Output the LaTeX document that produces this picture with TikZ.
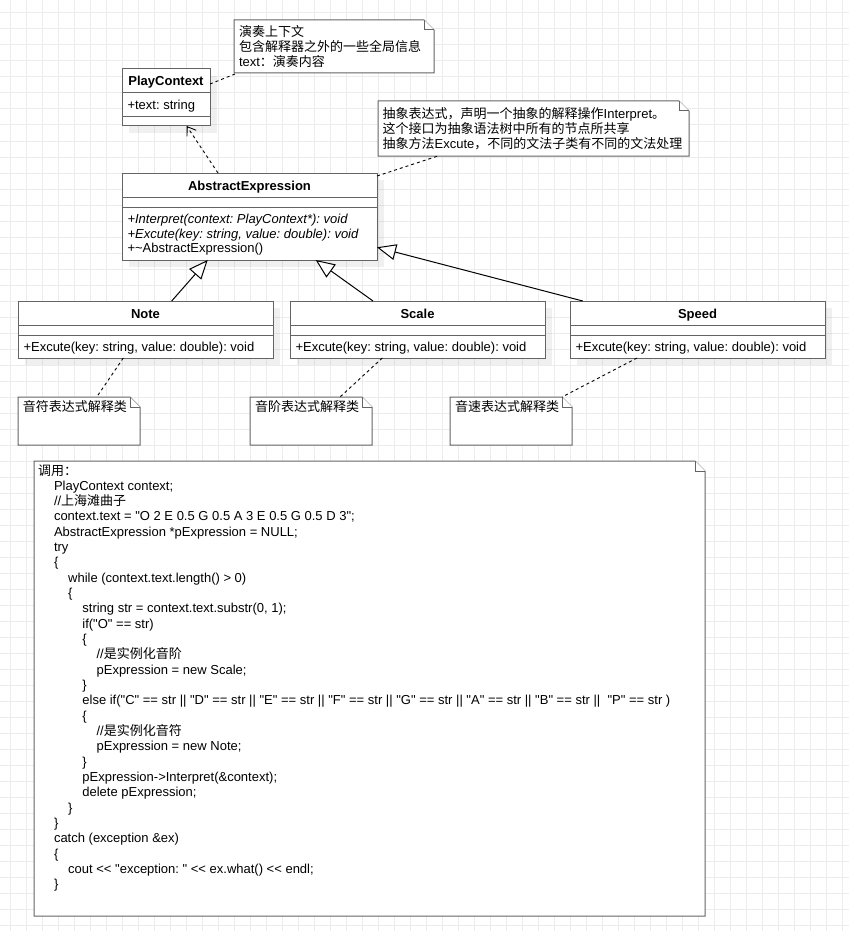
\documentclass[tikz,border=0pt]{standalone}
\usepackage{fontspec}
\newfontfamily\arialf{Liberation Sans}
\newfontfamily\cjk{Noto Sans CJK SC}
\usetikzlibrary{arrows.meta,calc,shadows}
\definecolor{gridc}{RGB}{236,236,236}
\definecolor{boxc}{RGB}{100,100,100}
\newcount\clnum
\newcommand\codeln[2]{%
  \global\advance\clnum by 1\relax
  \pgfmathsetmacro\cx{#1==0 ? 38 : 54+14.2*(#1-1)}%
  \pgfmathsetmacro\cy{475+15.33*(\clnum-1)}%
  \node[anchor=base west] (code\the\clnum) at (\cx,\cy) {#2};}
\newcommand\notefold[1]{%
  \draw[noteline] (#1.north west) -- ([xshift=-10pt]#1.north east) -- ([yshift=-10pt]#1.north east) -- (#1.south east) -- (#1.south west) -- cycle;
  \draw[noteline] ([xshift=-10pt]#1.north east) -- ([xshift=-10pt,yshift=-10pt]#1.north east) -- ([yshift=-10pt]#1.north east);}
\begin{document}
\frenchspacing
\begin{tikzpicture}[x=1pt,y=-1pt,
  every node/.style={font=\arialf\frenchspacing\fontsize{13pt}{15.33pt}\selectfont, inner sep=0pt, outer sep=0pt, text=black},
  clstitle/.style={font=\arialf\bfseries\fontsize{13pt}{15.33pt}\selectfont},
  itf/.style={font=\arialf\itshape\frenchspacing\fontsize{13pt}{15.33pt}\selectfont},
  clsbox/.style={draw=boxc, fill=white, line width=1pt, anchor=north west,
    drop shadow={shadow xshift=7pt, shadow yshift=-7pt, fill=black, opacity=0.06}},
  boxline/.style={draw=boxc, line width=1pt},
  notebox/.style={anchor=north west},
  noteline/.style={draw=boxc, fill=white, line width=1pt, line join=miter},
  gridline/.style={draw=gridc, line width=1pt},
  genline/.style={draw=black, line width=1pt},
  dashline/.style={draw=black, line width=0.9pt, dash pattern=on 3pt off 3pt}
]
\useasboundingbox (0,0) rectangle (849,931);
\fill[white] (0,0) rectangle (849,931);
\foreach \gx in {10,26,...,842} \draw[gridline] (\gx,0) -- (\gx,931);
\foreach \gy in {13,29,...,925} \draw[gridline] (0,\gy) -- (849,\gy);

% ---------- PlayContext ----------
\node[clsbox, minimum width=88pt, minimum height=57pt] (pc) at (122,69) {};
\draw[boxline] ($(pc.north west)+(0,24)$) -- ($(pc.north east)+(0,24)$);
\draw[boxline] ($(pc.north west)+(0,47.5)$) -- ($(pc.north east)+(0,47.5)$);
\node[clstitle, anchor=base] (pct) at ($(pc.north)+(0,17)$) {PlayContext};
\node[anchor=base west] (pca) at ($(pc.north west)+(5.5,40.5)$) {+text: string};

% ---------- AbstractExpression ----------
\node[clsbox, minimum width=255pt, minimum height=87pt] (ae) at (122,173) {};
\draw[boxline] ($(ae.north west)+(0,24.5)$) -- ($(ae.north east)+(0,24.5)$);
\draw[boxline] ($(ae.north west)+(0,34.5)$) -- ($(ae.north east)+(0,34.5)$);
\node[clstitle, anchor=base] (aet) at ($(ae.north)+(0,17)$) {AbstractExpression};
\node[itf, anchor=base west] (aem1) at ($(ae.north west)+(5.5,50.5)$) {+Interpret(context: PlayContext*): void};
\node[itf, anchor=base west] (aem2) at ($(ae.north west)+(5.5,65)$) {+Excute(key: string, value: double): void};
\node[anchor=base west] (aem3) at ($(ae.north west)+(5.5,79.5)$) {+\textasciitilde AbstractExpression()};

% ---------- subclasses ----------
\node[clsbox, minimum width=255pt, minimum height=57pt] (cnote) at (18,301) {};
\node[clsbox, minimum width=255pt, minimum height=57pt] (cscale) at (290,301) {};
\node[clsbox, minimum width=255pt, minimum height=57pt] (cspeed) at (570,301) {};
\foreach \c/\t in {cnote/Note, cscale/Scale, cspeed/Speed}{
  \draw[boxline] ($(\c.north west)+(0,24.5)$) -- ($(\c.north east)+(0,24.5)$);
  \draw[boxline] ($(\c.north west)+(0,34.5)$) -- ($(\c.north east)+(0,34.5)$);
  \node[clstitle, anchor=base] (\c t) at ($(\c.north)+(0,17)$) {\t};
  \node[anchor=base west] (\c m) at ($(\c.north west)+(5.5,50.5)$) {+Excute(key: string, value: double): void};
}

% ---------- notes ----------
\node[notebox, minimum width=200pt, minimum height=53pt] (n1) at (234,20) {};
\notefold{n1}
\node[anchor=base west] (n1a) at ($(n1.north west)+(5,17)$) {{\cjk 演奏上下文}};
\node[anchor=base west] (n1b) at ($(n1.north west)+(5,32)$) {{\cjk 包含解释器之外的一些全局信息}};
\node[anchor=base west] (n1c) at ($(n1.north west)+(5,47)$) {text{\cjk ：演奏内容}};

\node[notebox, minimum width=311pt, minimum height=55pt] (n2) at (378,101) {};
\notefold{n2}
\node[anchor=base west] (n2a) at ($(n2.north west)+(4.7,17)$) {{\cjk 抽象表达式，声明一个抽象的解释操作}Interpret{\cjk 。}};
\node[anchor=base west] (n2b) at ($(n2.north west)+(4.7,32)$) {{\cjk 这个接口为抽象语法树中所有的节点所共享}};
\node[anchor=base west] (n2c) at ($(n2.north west)+(4.7,47)$) {{\cjk 抽象方法}Excute{\cjk ，不同的文法子类有不同的文法处理}};

\node[notebox, minimum width=122pt, minimum height=48pt] (n3) at (18,397) {};
\notefold{n3}
\node[anchor=base west] (n3a) at ($(n3.north west)+(5,14.5)$) {{\cjk 音符表达式解释类}};
\node[notebox, minimum width=122pt, minimum height=48pt] (n4) at (250,397) {};
\notefold{n4}
\node[anchor=base west] (n4a) at ($(n4.north west)+(5,14.5)$) {{\cjk 音阶表达式解释类}};
\node[notebox, minimum width=122pt, minimum height=48pt] (n5) at (450,397) {};
\notefold{n5}
\node[anchor=base west] (n5a) at ($(n5.north west)+(5,14.5)$) {{\cjk 音速表达式解释类}};

% ---------- code note ----------
\node[notebox, minimum width=671pt, minimum height=455pt] (code) at (34,461) {};
\notefold{code}
\codeln{0}{{\cjk 调用：}}
\codeln{1}{PlayContext context;}
\codeln{1}{//{\cjk 上海滩曲子}}
\codeln{1}{context.text = "O 2 E 0.5 G 0.5 A 3 E 0.5 G 0.5 D 3";}
\codeln{1}{AbstractExpression *pExpression = NULL;}
\codeln{1}{try}
\codeln{1}{\{}
\codeln{2}{while (context.text.length() > 0)}
\codeln{2}{\{}
\codeln{3}{string str = context.text.substr(0, 1);}
\codeln{3}{if("O" == str)}
\codeln{3}{\{}
\codeln{4}{//{\cjk 是实例化音阶}}
\codeln{4}{pExpression = new Scale;}
\codeln{3}{\}}
\codeln{3}{else if("C" == str || "D" == str || "E" == str || "F" == str || "G" == str || "A" == str || "B" == str ||\ \ "P" == str )}
\codeln{3}{\{}
\codeln{4}{//{\cjk 是实例化音符}}
\codeln{4}{pExpression = new Note;}
\codeln{3}{\}}
\codeln{3}{pExpression->Interpret(\&context);}
\codeln{3}{delete pExpression;}
\codeln{2}{\}}
\codeln{1}{\}}
\codeln{1}{catch (exception \&ex)}
\codeln{1}{\{}
\codeln{2}{cout << "exception: " << ex.what() << endl;}
\codeln{1}{\}}

% ---------- connectors ----------
\draw[dashline] ($(pc.north east)+(0,15)$) -- ($(n1.south west)+(3.5,0)$);
\draw[dashline] ($(ae.north east)+(0,3)$) -- ($(n2.south west)+(60,0)$);
\draw[dashline, -{Straight Barb[length=8pt,width=11pt]}] ($(ae.north west)+(96,0)$) -- ($(pc.south west)+(64.7,0)$);
\draw[genline, -{Triangle[length=19pt,width=16pt,fill=white]}] ($(cnote.north west)+(153.7,0)$) -- ($(ae.south west)+(85.7,0)$);
\draw[genline, -{Triangle[length=19pt,width=16pt,fill=white]}] ($(cscale.north west)+(83,0)$) -- ($(ae.south west)+(193.7,0)$);
\draw[genline, -{Triangle[length=19pt,width=16pt,fill=white]}] ($(cspeed.north west)+(12.7,0)$) -- ($(ae.north east)+(0,74.3)$);
\draw[dashline] ($(cnote.south west)+(105.3,0)$) -- ($(n3.north west)+(78.7,0)$);
\draw[dashline] ($(cscale.south west)+(92.3,0)$) -- ($(n4.north west)+(90,0)$);
\draw[dashline] ($(cspeed.south west)+(67,0)$) -- ($(n5.north east)+(-10,0)$);
\end{tikzpicture}
\end{document}
